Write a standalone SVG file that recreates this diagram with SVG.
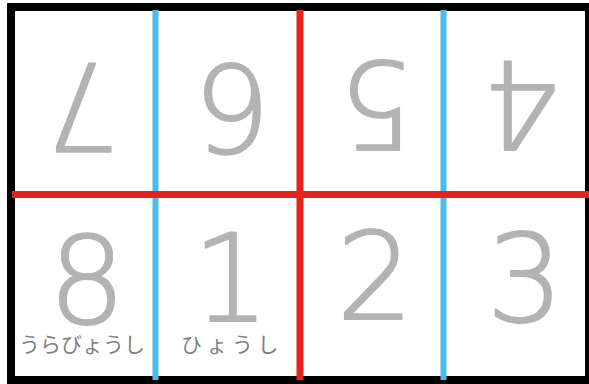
<svg xmlns="http://www.w3.org/2000/svg" width="589" height="384" viewBox="0 0 589 384">
<style>
.d{font-family:"DejaVu Sans",sans-serif;font-weight:200;font-size:121px;fill:#b3b3b3;stroke:#b3b3b3;stroke-width:2;stroke-linejoin:round;text-anchor:middle}
.j{font-family:"Noto Sans CJK JP","Noto Sans",sans-serif;font-size:21px;fill:#808080;text-anchor:middle}
.b{stroke:#4dbbeb;stroke-width:6}
.r{stroke:#e5231d;stroke-width:7}
</style>
<rect width="589" height="384" fill="#ffffff"/>
<rect x="11" y="7" width="578" height="373" fill="#ffffff" stroke="#000000" stroke-width="8"/>
<g id="cell7"><text class="d" transform="translate(82,63) rotate(180)">7</text></g>
<g id="cell6"><text class="d" transform="translate(233,65) rotate(180)">6</text></g>
<g id="cell5"><text class="d" transform="translate(376,62) rotate(180)">5</text></g>
<g id="cell4"><text class="d" transform="translate(521,62) rotate(180)">4</text></g>
<g id="cell8"><text class="d" x="87" y="323">8</text><text class="j" x="82" y="352">うらびょうし</text></g>
<g id="cell1"><text class="d" x="231" y="321">1</text><text class="j" x="232" y="352" letter-spacing="4.5">ひょうし</text></g>
<g id="cell2"><text class="d" x="375" y="319">2</text></g>
<g id="cell3"><text class="d" x="525" y="321">3</text></g>
<g id="lines">
<line class="b" x1="155.5" y1="10" x2="155.5" y2="380"/>
<line class="b" x1="443.5" y1="10" x2="443.5" y2="380"/>
<line class="r" x1="300" y1="10" x2="300" y2="380"/>
<line class="r" x1="12" y1="194.5" x2="589" y2="194.5"/>
</g>
</svg>
